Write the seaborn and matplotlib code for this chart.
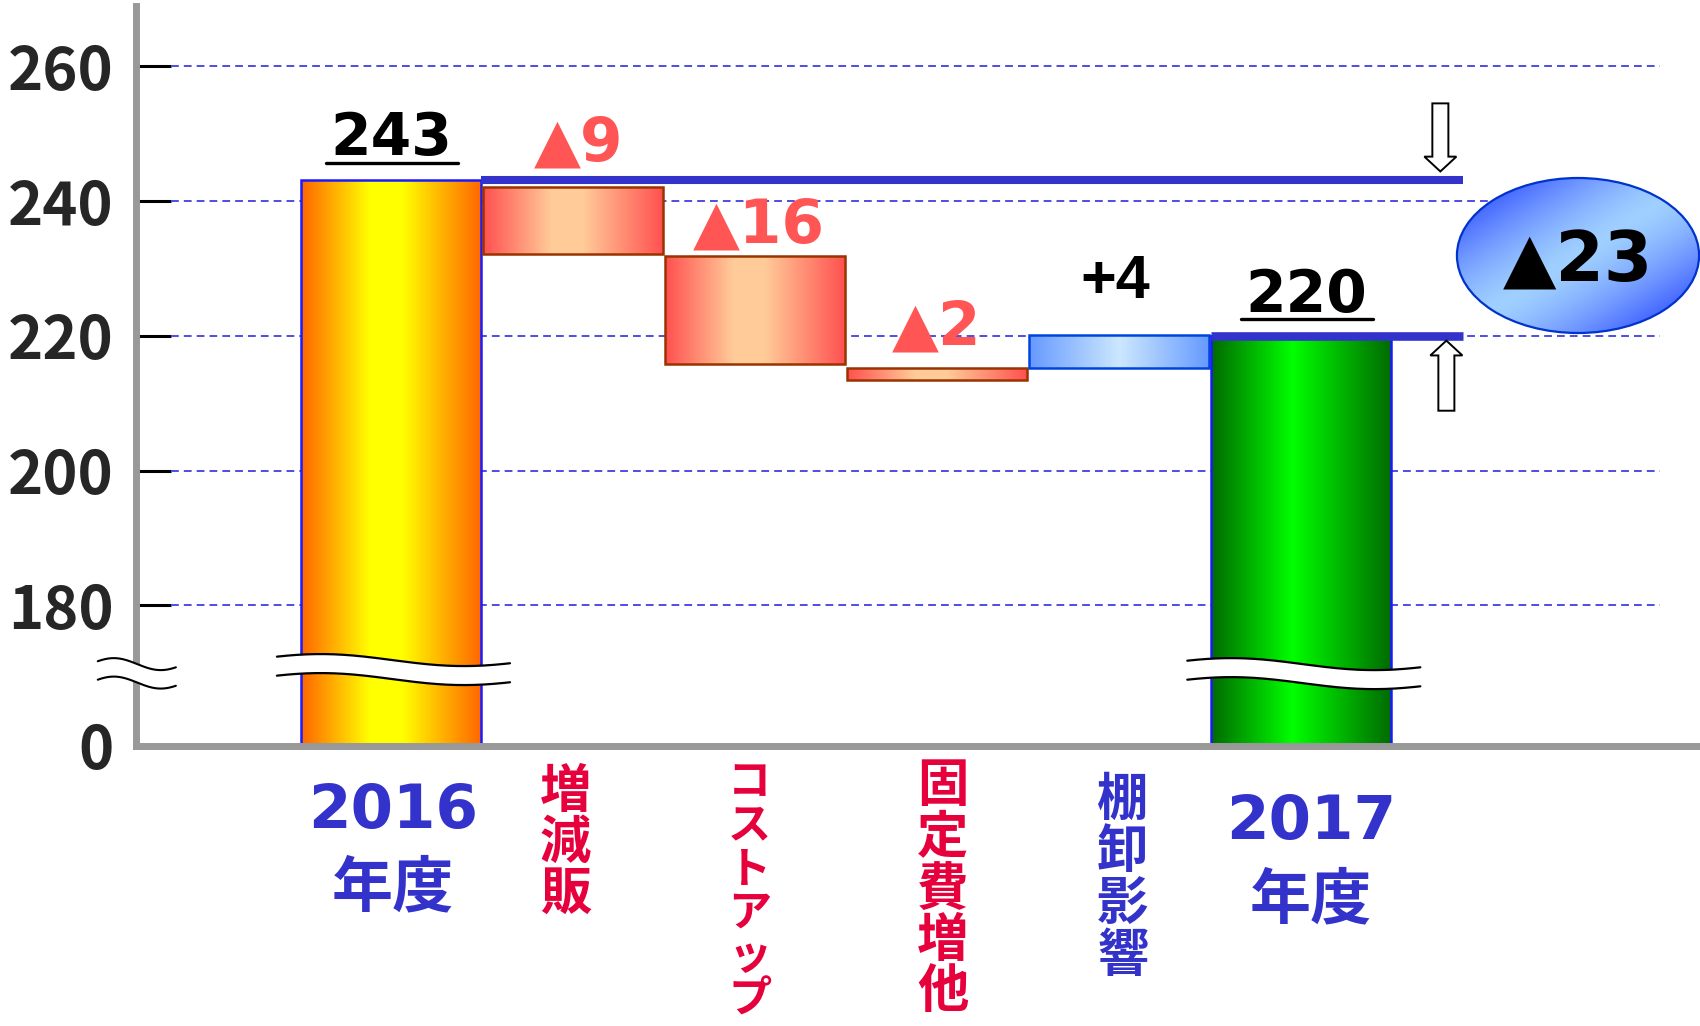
# -*- coding: utf-8 -*-
"""
Waterfall chart 2016 -> 2017 with a broken value axis.
"""
import matplotlib
matplotlib.use("Agg")
import matplotlib.pyplot as plt
import numpy as np
import pandas as pd
import seaborn as sns
from matplotlib.colors import LinearSegmentedColormap, to_rgb
from matplotlib.lines import Line2D
from matplotlib.patches import Ellipse, Polygon

# ---- data -----------------------------------------------------------------
categories = ["2016年度", "増減販", "コストアップ", "固定費増他", "棚卸影響", "2017年度"]
bar_top = [243.2, 242.1, 231.8, 215.3, 220.1, 220.0]
bar_bottom = [np.nan, 232.1, 215.9, 213.4, 215.2, np.nan]   # nan -> total bar from 0
value_labels = ["243", "▲9", "▲16", "▲2", "+4", "220"]
step_labels = ["増減販", "コストアップ", "固定費増他", "棚卸影響"]
year_labels = ["2016", "2017"]
y_ticks = [180, 200, 220, 240, 260]
total_change = "▲23"

# ---- layout ---------------------------------------------------------------
W, H = 1700, 1026
AXIS_BASE = 159.15          # where the broken axis shows "0"
Y_TOP = 268.95
X_LIM = (-1.40, 7.19)
BLUE = "#3333cc"
RED_TXT = "#e6003c"
RED_VAL = "#ff5555"
JP = ["Noto Sans CJK JP", "DejaVu Sans"]
NUM = ["DejaVu Sans", "Noto Sans CJK JP"]

grad_stops = [
    [(0, "#ff6600"), (0.38, "#ffff00"), (0.56, "#ffff00"), (1, "#ff6600")],
    [(0, "#ff5050"), (0.38, "#ffcc99"), (0.55, "#ffcc99"), (1, "#ff5050")],
    [(0, "#ff5050"), (0.38, "#ffcc99"), (0.55, "#ffcc99"), (1, "#ff5050")],
    [(0, "#ff5050"), (0.38, "#ffcc99"), (0.55, "#ffcc99"), (1, "#ff5050")],
    [(0, "#6699ff"), (0.5, "#cce8ff"), (1, "#6699ff")],
    [(0, "#006a00"), (0.45, "#00ff00"), (1, "#006a00")],
]
edge_colors = ["#1a1aff", "#993300", "#993300", "#993300", "#0044dd", "#1a1aff"]

sns.set_theme(style="white")
plt.rcParams["font.family"] = NUM

fig = plt.figure(figsize=(W / 100, H / 100), dpi=100)
ax = fig.add_axes([136 / W, 280 / H, (W - 136) / W, 740 / H])

df = pd.DataFrame({"item": categories, "top": bar_top})
sns.barplot(data=df, x="item", y="top", order=categories, width=0.99,
            color="white", saturation=1, ax=ax)

# reshape bars to floating waterfall steps and fill with gradients
for i, p in enumerate(ax.patches[:len(categories)]):
    bottom = AXIS_BASE if np.isnan(bar_bottom[i]) else bar_bottom[i]
    p.set_y(bottom)
    p.set_height(bar_top[i] - bottom)
    p.set_facecolor("none")
    p.set_edgecolor(edge_colors[i])
    p.set_linewidth(1.8)
    p.set_zorder(2.5)
    cmap = LinearSegmentedColormap.from_list(f"g{i}", grad_stops[i])
    grad = cmap(np.linspace(0, 1, 256))[np.newaxis, :, :3]
    x0 = p.get_x()
    im = ax.imshow(grad, extent=[x0, x0 + p.get_width(), bottom, bar_top[i]],
                   aspect="auto", interpolation="bilinear", zorder=2)
    im.set_clip_path(p)

# dashed grid
ax.hlines(y_ticks, -1.21, 6.97, colors="#4d4de6", linestyles=(0, (4, 2.6)),
          lw=1.4, zorder=1)

# level lines for the two totals
half_w = 0.495
ax.plot([half_w, 5.89], [bar_top[0]] * 2, color=BLUE, lw=5.8,
        solid_capstyle="butt", zorder=3)
ax.plot([5 - half_w, 5.89], [bar_top[5]] * 2, color=BLUE, lw=6.2,
        solid_capstyle="butt", zorder=3)


def hollow_arrow(xc, y_tail, y_tip):
    d = np.sign(y_tip - y_tail)
    hl, sw, hw = 2.2, 0.044, 0.088
    yb = y_tip - d * hl
    pts = [(xc - sw, y_tail), (xc - sw, yb), (xc - hw, yb), (xc, y_tip),
           (xc + hw, yb), (xc + sw, yb), (xc + sw, y_tail)]
    ax.add_patch(Polygon(pts, closed=True, fc="white", ec="black", lw=1.4,
                         zorder=4))


hollow_arrow(5.764, bar_top[0] + 11.3, bar_top[0] + 1.2)
hollow_arrow(5.797, bar_top[5] - 11.1, bar_top[5] - 0.7)


def break_mark(x0, x1, xpeak, half, y_up, amp, gap, lw=1.6):
    xs = np.linspace(x0, x1, 200)
    up = y_up + amp * np.cos(np.pi * (xs - xpeak) / half)
    lo = up - gap
    ax.fill_between(xs, lo, up, color="white", zorder=5, clip_on=False, lw=0)
    for ys in (up, lo):
        ax.plot(xs, ys, color="black", lw=lw, zorder=5.1, clip_on=False)


break_mark(-0.626, 0.654, -0.385, 0.786, 171.9, 0.89, 2.82)
break_mark(5 - 0.626, 5 + 0.654, 5 - 0.385, 0.786, 171.3, 0.89, 2.82)
break_mark(-1.610, -1.181, -1.522, 0.258, 171.3, 0.89, 2.74, lw=1.5)

# total change bubble
ell = Ellipse((6.52, 231.93), 1.33, 23.0, fc="none", ec="#0033cc", lw=1.6,
              zorder=6, clip_on=False)
ax.add_patch(ell)
n = 200
u, v = np.meshgrid(np.linspace(0, 1, n), np.linspace(0, 1, n))
t = np.clip(np.abs(u - v) / 0.75, 0, 1) ** 1.4
light, dark = np.array(to_rgb("#a0d0ff")), np.array(to_rgb("#3f5fff"))
bub = light * (1 - t[..., None]) + dark * t[..., None]
im = ax.imshow(bub, extent=[6.52 - 0.665, 6.52 + 0.665, 231.93 - 11.5, 231.93 + 11.5],
               origin="lower", aspect="auto", zorder=5.9, interpolation="bilinear")
im.set_clip_path(ell)

# axes styling
ax.set_xlim(*X_LIM)
ax.set_ylim(AXIS_BASE, Y_TOP)
ax.set_xticks([])
ax.set_xlabel("")
ax.set_ylabel("")
ax.set_yticks([AXIS_BASE] + y_ticks)
ax.set_yticklabels(["0"] + [str(v) for v in y_ticks], family=JP,
                   fontweight="bold", fontsize=43)
ax.tick_params(axis="y", direction="in", length=25, width=2.2, color="black",
               pad=16, left=True)
ax.yaxis.get_major_ticks()[0].tick1line.set_visible(False)
for side in ("top", "right"):
    ax.spines[side].set_visible(False)
for side in ("left", "bottom"):
    ax.spines[side].set_color("#999999")
    ax.spines[side].set_linewidth(5)
ax.set_facecolor("white")


def put(x, y_img, s, **kw):
    """x in data units, y as image pixel row (from top)."""
    kw.setdefault("ha", "center")
    ax.annotate(s, xy=(x, H - y_img), xycoords=("data", "figure pixels"),
                annotation_clip=False, **kw)


# value labels above the bars
label_x = [0.0, 1.03, 2.02, 3.0, 3.98, 5.03]
label_base = [155, 160, 243, 345, 298, 312]
label_color = ["black", RED_VAL, RED_VAL, RED_VAL, "black", "black"]
for i, s in enumerate(value_labels):
    fam = ["Liberation Sans", "DejaVu Sans"] if s.startswith("+") else NUM
    put(label_x[i], label_base[i], s, va="baseline", color=label_color[i],
        fontsize=42 if i in (0, 5) else 44, fontweight="bold", family=fam,
        zorder=7)

# underlines for totals
for xi, y_img, x0, x1 in [(0, 163, 326, 458), (5, 319, 1241, 1373)]:
    fig.add_artist(Line2D([x0 / W, x1 / W], [1 - y_img / H] * 2, color="black",
                          lw=2.4))

put(6.52, 282, total_change, va="baseline", fontsize=50, fontweight="bold",
    color="black", family=NUM, zorder=7)

# category labels
for xi, base, cy, yr in [(0.01, 828, 889, year_labels[0]),
                         (5.055, 839, 901, year_labels[1])]:
    put(xi, base, yr, va="baseline", fontsize=44, fontweight="bold",
        color=BLUE, family=NUM)
    put(xi, cy, "年度", va="center", fontsize=44, fontweight="bold",
        color=BLUE, family=JP)

# vertical step labels, one character per row
vert_x = [0.96, 1.97, 3.03, 4.02]
vert_start = [791, 782, 786, 799]
vert_pitch = [51, 43.5, 51.5, 52]
vert_size = [37, 31, 37, 37]
vert_color = [RED_TXT, RED_TXT, RED_TXT, BLUE]
for k, word in enumerate(step_labels):
    for j, ch in enumerate(word):
        put(vert_x[k], vert_start[k] + j * vert_pitch[k], ch, va="center",
            fontsize=vert_size[k], fontweight="bold", color=vert_color[k],
            family=JP)

fig.savefig("out.png", dpi=100, facecolor="white")
